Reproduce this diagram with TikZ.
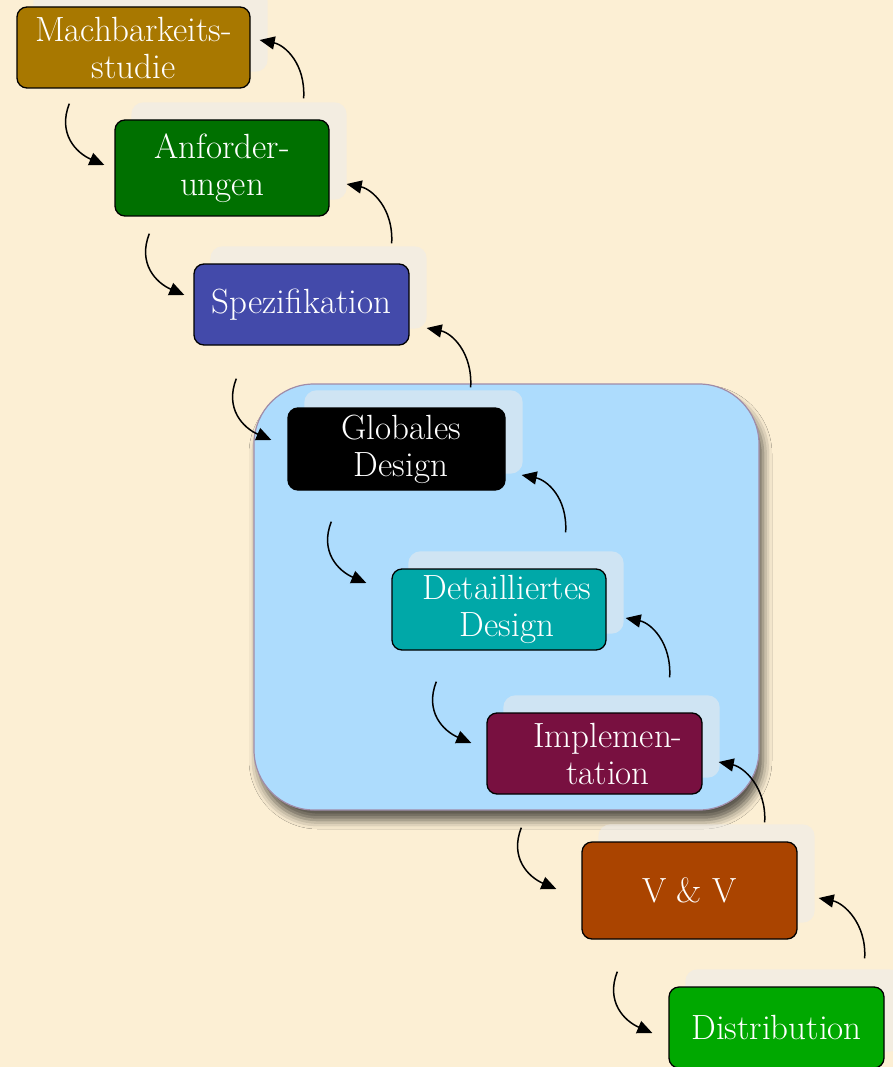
\documentclass[tikz,border=0pt]{standalone}
\usetikzlibrary{arrows.meta,shadows.blur,backgrounds}
\definecolor{bg}{RGB}{252,239,212}
\definecolor{cM}{RGB}{168,120,0}
\definecolor{cA}{RGB}{0,112,0}
\definecolor{cS}{RGB}{67,74,170}
\definecolor{cD}{RGB}{0,168,168}
\definecolor{cI}{RGB}{120,16,64}
\definecolor{cV}{RGB}{170,68,0}
\definecolor{cDi}{RGB}{0,168,0}
\definecolor{bluetop}{RGB}{218,250,255}
\definecolor{bluemid}{RGB}{173,220,253}
\definecolor{bluebot}{RGB}{158,204,244}
\definecolor{blueedge}{RGB}{160,140,168}
\definecolor{ghostc}{RGB}{236,236,236}
\pgfdeclareverticalshading{boxshade}{100bp}{color(0bp)=(bluebot); color(12bp)=(bluemid); color(88bp)=(bluemid); color(96bp)=(bluetop); color(100bp)=(bluetop)}
\begin{document}
\begin{tikzpicture}[x=1pt,y=-1pt,
  stage/.style={draw=black, line width=1.3pt, rounded corners=10pt, text=white,
    align=center, font=\fontsize{35}{37}\selectfont, minimum height=81pt, inner sep=0pt},
  ghost/.style={fill=ghostc, fill opacity=0.55, rounded corners=12pt},
  flow/.style={line width=1.5pt, -{Triangle[length=15pt,width=13pt]}},
]
\useasboundingbox (0,0) rectangle (893,1067);

% stages
\node[stage, fill=cM, minimum width=233pt] (M) at (133.5,47.5) {Machbarkeits-\\studie};
\node[stage, fill=cA, minimum width=214pt, minimum height=96pt] (A) at (222,168) {Anforder-\\ungen};
\node[stage, fill=cS, minimum width=215pt] (S) at (301.5,304.5) {Spezifikation};
\node[stage, fill=black, minimum width=217pt, minimum height=82pt] (G) at (396.5,449) {\hspace*{9pt}Globales\\\hspace*{9pt}Design};
\node[stage, fill=cD, minimum width=214pt] (D) at (499,609.5) {\hspace*{16pt}Detailliertes\\\hspace*{16pt}Design};
\node[stage, fill=cI, minimum width=215pt] (I) at (594.5,753.5) {\hspace*{27pt}Implemen-\\\hspace*{27pt}tation};
\node[stage, fill=cV, minimum width=215pt, minimum height=97pt] (V) at (689.5,890.5) {V \& V};
\node[stage, fill=cDi, minimum width=215pt] (Di) at (776.5,1027.5) {Distribution};

\begin{scope}[on background layer]
  \fill[bg] (0,0) rectangle (893,1067);
  \path[draw=blueedge, line width=1.2pt, rounded corners=60pt, shading=boxshade,
        blur shadow={shadow xshift=4pt, shadow yshift=-10pt, shadow blur radius=9pt, shadow opacity=65}]
        (254,384) rectangle (759,810);
  \foreach \n in {M,A,S,G,D,I,V,Di}
    \fill[ghost] ([shift={(17,-17)}]\n.south west) rectangle ([shift={(17,-17)}]\n.north east);
\end{scope}

% forward arrows (down)
\draw[flow] ([shift={(53,15)}]M.south west) .. controls +(-12,30) and +(-28,-12) .. ([shift={(-10,-3)}]A.west);
\draw[flow] ([shift={(35,17)}]A.south west) .. controls +(-12,30) and +(-28,-12) .. ([shift={(-9,-9.5)}]S.west);
\draw[flow] ([shift={(43,33)}]S.south west) .. controls +(-12,30) and +(-28,-12) .. ([shift={(-16,-9)}]G.west);
\draw[flow] ([shift={(44,31)}]G.south west) .. controls +(-12,30) and +(-28,-12) .. ([shift={(-25,-26.5)}]D.west);
\draw[flow] ([shift={(45,31)}]D.south west) .. controls +(-12,30) and +(-28,-12) .. ([shift={(-15,-10.5)}]I.west);
\draw[flow] ([shift={(35,33)}]I.south west) .. controls +(-12,30) and +(-28,-12) .. ([shift={(-25,-1.5)}]V.west);
\draw[flow] ([shift={(36,32)}]V.south west) .. controls +(-12,30) and +(-28,-12) .. ([shift={(-16,5.5)}]Di.west);

% backward arrows (up)
\draw[flow] ([shift={(-26,-21)}]A.north east) .. controls +(2,-35) and +(25,5) .. ([shift={(9,-7.5)}]M.east);
\draw[flow] ([shift={(-18,-20)}]S.north east) .. controls +(2,-35) and +(25,5) .. ([shift={(17,16)}]A.east);
\draw[flow] ([shift={(-35,-20)}]G.north east) .. controls +(2,-35) and +(25,5) .. ([shift={(17,23.5)}]S.east);
\draw[flow] ([shift={(-41,-36)}]D.north east) .. controls +(2,-35) and +(25,5) .. ([shift={(16,26)}]G.east);
\draw[flow] ([shift={(-33,-35)}]I.north east) .. controls +(2,-35) and +(25,5) .. ([shift={(19,8.5)}]D.east);
\draw[flow] ([shift={(-33,-19)}]V.north east) .. controls +(2,-35) and +(25,5) .. ([shift={(16,8.5)}]I.east);
\draw[flow] ([shift={(-20,-28)}]Di.north east) .. controls +(2,-35) and +(25,5) .. ([shift={(21,7.5)}]V.east);
\end{tikzpicture}
\end{document}
